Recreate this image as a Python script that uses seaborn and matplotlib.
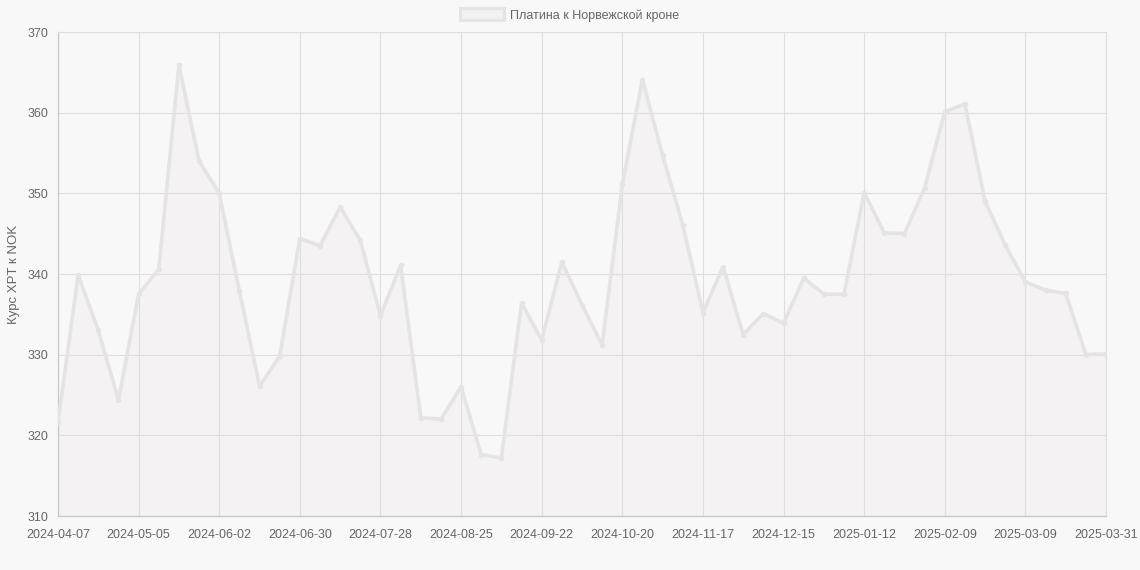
import numpy as np
import pandas as pd
import matplotlib
matplotlib.use("Agg")
import matplotlib.pyplot as plt
from matplotlib.patches import Patch
import seaborn as sns

# weekly dates, last point is 2025-03-31
dates = list(pd.date_range("2024-04-07", "2025-03-30", freq="7D").strftime("%Y-%m-%d")) + ["2025-03-31"]

rates = [
    321.6, 339.9, 333.0, 324.4, 337.5, 340.6, 365.9, 354.0, 350.0, 337.9,
    326.1, 329.8, 344.4, 343.5, 348.3, 344.2, 334.8, 341.1, 322.2, 322.0,
    326.0, 317.6, 317.2, 336.4, 331.8, 341.5, 336.2, 331.2, 351.1, 364.1,
    354.7, 346.1, 335.2, 340.9, 332.5, 335.1, 333.9, 339.5, 337.5, 337.5,
    350.1, 345.1, 345.0, 350.7, 360.1, 361.1, 349.0, 343.6, 339.0, 338.0,
    337.6, 330.0, 330.1,
]

series_label = "Платина к Норвежской кроне"
y_label = "Курс XPT к NOK"

line_color = "#e6e3e3"
fill_color = "#f4f2f3"
bg_color = "#f8f8f8"
grid_color = "#dedede"
text_color = "#666666"

sns.set_style("white")
plt.rcParams["font.family"] = ["Liberation Sans", "DejaVu Sans"]

df = pd.DataFrame({"date": dates, "rate": rates})
pos = np.arange(len(dates))

fig = plt.figure(figsize=(11.4, 5.7), dpi=100, facecolor=bg_color)
ax = fig.add_axes([58 / 1140, 54 / 570, 1048 / 1140, 484 / 570])
ax.set_facecolor(bg_color)

# fill sits under the grid, like the original
ax.fill_between(pos, rates, 310, color=fill_color, linewidth=0, zorder=0.3)
sns.lineplot(data=df, x="date", y="rate", ax=ax, color=line_color, linewidth=2.6,
             marker="o", markersize=4, markeredgewidth=0, zorder=3, legend=False)

ax.set_xlim(0, len(dates) - 1)
ax.set_ylim(310, 370)
ax.set_yticks(np.arange(310, 371, 10))
ticks = list(range(0, len(dates), 4))
ax.set_xticks(ticks)
ax.set_xticklabels([dates[i] for i in ticks])

ax.grid(True, color=grid_color, linewidth=0.8)
ax.set_axisbelow(True)
for side in ["top", "right"]:
    ax.spines[side].set_color(grid_color)
    ax.spines[side].set_linewidth(0.8)
for side in ["left", "bottom"]:
    ax.spines[side].set_color("#c8c8c8")
    ax.spines[side].set_linewidth(0.9)

ax.tick_params(axis="both", colors=grid_color, labelcolor=text_color, labelsize=9,
               length=6, width=0.8, direction="out")
ax.tick_params(axis="y", pad=1)
ax.tick_params(axis="x", pad=3)

ax.set_xlabel("")
ax.set_ylabel(y_label, color=text_color, fontsize=9.5)
ax.yaxis.set_label_coords(-38 / 1048, 0.5)

handle = Patch(facecolor="#f2f0f0", edgecolor=line_color, linewidth=2.2, label=series_label)
fig.legend(handles=[handle], loc="center", bbox_to_anchor=(0.5, 1 - 15 / 570), frameon=False,
           fontsize=9, labelcolor=text_color, handlelength=3.5, handleheight=1.05,
           handletextpad=0.5)

fig.savefig("out.png", dpi=100, facecolor=bg_color)
